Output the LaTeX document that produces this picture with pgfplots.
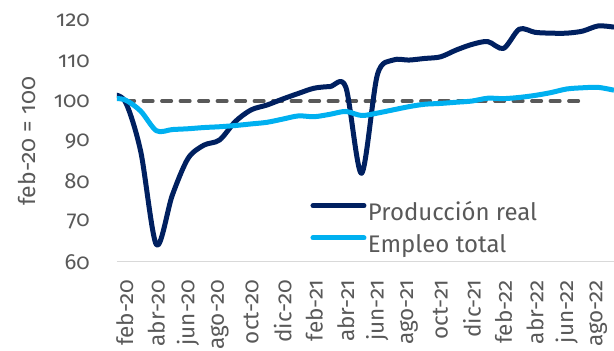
\documentclass[border=0pt]{standalone}
\usepackage{fontspec}
\setmainfont{Fira Sans}[Numbers=OldStyle]
\usepackage{pgfplots}
\pgfplotsset{compat=1.18}

\definecolor{navy}{HTML}{002060}
\definecolor{sky}{HTML}{00B0F0}
\definecolor{refgray}{HTML}{595959}
\definecolor{txt}{HTML}{595959}
\definecolor{axisgray}{HTML}{D9D9D9}

% Indices: 0 = feb-20 (base month), -1 = ene-20, 31 = sep-22
\pgfplotstableread{
x    prod   empl
-1   101.6  100.7
0    100.0  100.3
1    87.5   97.5
2    64.2   92.6
3    76.5   92.9
4    85.7   93.1
5    89.0   93.4
6    90.3   93.6
7    94.9   93.9
8    97.8   94.3
9    99.0   94.7
10   100.5  95.5
11   101.9  96.3
12   103.2  96.1
13   103.6  96.7
14   103.5  97.4
15   82.0   96.4
16   106.5  97.0
17   110.2  97.8
18   110.2  98.6
19   110.6  99.2
20   111.0  99.4
21   112.7  99.7
22   114.1  100.0
23   114.8  100.7
24   113.1  100.6
25   117.9  100.9
26   117.1  101.4
27   116.9  102.1
28   116.9  103.0
29   117.4  103.3
30   118.7  103.4
31   118.4  102.7
}\datatable

\begin{document}
\begin{tikzpicture}[x=1pt,y=1pt]
\path[use as bounding box] (0,0) rectangle (614,351);
\begin{axis}[
  at={(117pt,89.3pt)}, anchor=south west,
  width=497pt, height=241pt, scale only axis,
  xmin=-0.5, xmax=31, ymin=60, ymax=120,
  axis lines=left,
  y axis line style={draw=none},
  x axis line style={draw=axisgray, line width=1.5pt, -},
  major tick length=0pt,
  tick style={draw=none},
  xtick={0,2,...,30},
  xticklabels={feb-20,abr-20,jun-20,ago-20,oct-20,dic-20,feb-21,abr-21,jun-21,ago-21,oct-21,dic-21,feb-22,abr-22,jun-22,ago-22},
  ytick={60,70,...,120},
  /pgf/number format/assume math mode=true,
  yticklabel style={font=\fontsize{22}{26}\selectfont, text=txt,
    anchor=east, inner sep=0pt, xshift=-27pt},
  xticklabel style={font=\fontsize{22.5}{26}\selectfont, text=txt,
    yshift=-18pt, rotate=90, anchor=east, inner sep=0pt},
  ylabel={feb-20 = 100},
  ylabel style={at={(axis description cs:-0.181,0.5)}, anchor=center,
    font=\fontsize{23}{27}\selectfont, text=txt},
  legend cell align=left,
  legend style={at={(axis description cs:0.3843,0.2477)}, anchor=north west,
    draw=none, fill=none, inner sep=0pt, outer sep=0pt,
    row sep=8.3pt, column sep=-1pt,
    nodes={inner sep=0pt, text height=18pt, text depth=6pt,
      font=\fontsize{24}{28}\selectfont, text=txt}},
  legend image code/.code={
    \draw[#1, line cap=round] (2.5pt,8.4pt) -- (53.5pt,8.4pt);
    \path (0pt,0pt) (56pt,0pt);},
]
% reference level at 100
\addplot[refgray, line width=3.5pt, line cap=round,
  dash pattern=on 9.5pt off 9pt, forget plot]
  coordinates {(0,100) (29,100)};
\addplot[navy, line width=5pt, smooth, tension=0.5, line join=round]
  table[x=x, y=prod] {\datatable};
\addlegendentry{Producción real}
\addplot[sky, line width=5pt, smooth, tension=0.5, line join=round]
  table[x=x, y=empl] {\datatable};
\addlegendentry{Empleo total}
\end{axis}
\end{tikzpicture}
\end{document}
